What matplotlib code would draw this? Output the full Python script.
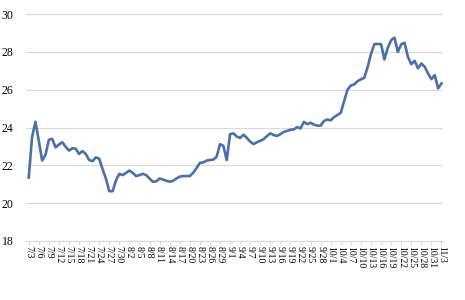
import matplotlib
matplotlib.use("Agg")
import matplotlib.pyplot as plt
import pandas as pd

# daily values, 7/3 .. 11/3
dates = pd.date_range("2018-07-03", "2018-11-03", freq="D")
values = [
    21.35, 23.5, 24.3, 23.3, 22.25, 22.55, 23.35, 23.4, 22.95, 23.1,
    23.22, 22.98, 22.78, 22.9, 22.88, 22.6, 22.75, 22.6, 22.28, 22.22,
    22.42, 22.35, 21.8, 21.3, 20.63, 20.63, 21.2, 21.55, 21.48, 21.6,
    21.72, 21.6, 21.43, 21.48, 21.55, 21.48, 21.3, 21.13, 21.15, 21.3,
    21.25, 21.18, 21.13, 21.18, 21.3, 21.4, 21.43, 21.43, 21.43, 21.6,
    21.85, 22.13, 22.15, 22.25, 22.28, 22.3, 22.45, 23.12, 23.03, 22.28,
    23.65, 23.69, 23.52, 23.45, 23.62, 23.45, 23.25, 23.12, 23.22, 23.3,
    23.38, 23.55, 23.69, 23.6, 23.55, 23.65, 23.76, 23.82, 23.88, 23.9,
    24.02, 23.95, 24.3, 24.18, 24.25, 24.15, 24.1, 24.1, 24.35, 24.42,
    24.38, 24.55, 24.66, 24.78, 25.4, 26.0, 26.22, 26.28, 26.45, 26.55,
    26.63, 27.2, 27.9, 28.41, 28.42, 28.41, 27.6, 28.22, 28.62, 28.75,
    28.0, 28.4, 28.48, 27.74, 27.35, 27.53, 27.13, 27.39, 27.21, 26.86,
    26.56, 26.77, 26.07, 26.33,
]
labels = [f"{d.month}/{d.day}" for d in dates]
yticks = [18, 20, 22, 24, 26, 28, 30]

LINE = "#4a6fae"
GRID = "#d9d9d9"

fig = plt.figure(figsize=(4.65, 3.0), dpi=100, facecolor="white")
ax = fig.add_axes([0.056, 0.197, 0.897, 0.756])

x = list(range(len(values)))
ax.plot(x, values, color=LINE, linewidth=1.9, solid_joinstyle="round")

ax.set_ylim(18, 30)
ax.set_xlim(-0.8, len(values) - 0.5)
ax.set_yticks(yticks)
ax.set_yticklabels([str(t) for t in yticks], fontsize=8.5, family="Liberation Serif")
ax.yaxis.grid(True, color=GRID, linewidth=0.8)
ax.set_axisbelow(True)
ax.tick_params(axis="y", length=0, pad=9)

ticks = x[::3]
ax.set_xticks(ticks)
ax.set_xticklabels(labels[::3], rotation=-90, fontsize=7,
                   family="Liberation Serif", va="top", ha="center")
ax.tick_params(axis="x", length=3, color=GRID, pad=1, direction="out")

for s in ["top", "right", "left"]:
    ax.spines[s].set_visible(False)
ax.spines["bottom"].set_color(GRID)
ax.spines["bottom"].set_linewidth(0.8)

fig.savefig("out.png", dpi=100, facecolor="white")
